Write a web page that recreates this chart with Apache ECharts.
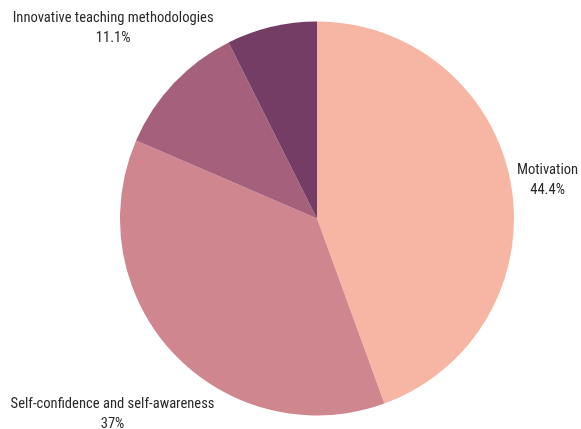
<!DOCTYPE html>
<html>
<head>
<meta charset="utf-8">
<script src="https://cdn.jsdelivr.net/npm/echarts@6/dist/echarts.min.js"></script>
<style>html,body{margin:0;padding:0;background:#fff;}#c{width:581px;height:429px;}</style>
</head>
<body>
<div id="c"></div>
<script>
const categories = ['Motivation', 'Self-confidence and self-awareness', 'Innovative teaching methodologies', 'Other'];
const values = [12, 10, 3, 2];
const showLabel = [true, true, true, false];
const colors = ['#f7b5a3', '#cf868e', '#a5617b', '#733d66'];

const chart = echarts.init(document.getElementById('c'), null, {renderer: 'canvas'});
const CENTER = [0.5456, 0.5093];
const RADIUS = 197;
const GAP = 4;
const TEXT_SHIFT = 2.5;
const total = values.reduce((a, b) => a + b, 0);
function midDir(i) {
  let before = 0;
  for (let k = 0; k < i; k++) before += values[k];
  const th = (90 - 360 * (before + values[i] / 2) / total) * Math.PI / 180;
  return [Math.cos(th), -Math.sin(th)];
}
function pct(v) {
  return +(v / total * 100).toFixed(1);
}
const option = {
  animation: false,
  series: [{
    type: 'pie',
    center: [(CENTER[0] * 100) + '%', (CENTER[1] * 100) + '%'],
    radius: RADIUS,
    startAngle: 90,
    clockwise: true,
    avoidLabelOverlap: false,
    itemStyle: {borderWidth: 0},
    labelLine: {show: false},
    label: {
      position: 'outside',
      fontFamily: "'Roboto Condensed', 'Liberation Sans Narrow', Roboto, sans-serif",
      fontSize: 14.6,
      lineHeight: 20,
      color: '#2a2a2a',
      formatter: p => p.name + '\n' + pct(p.value) + '%'
    },
    labelLayout: function (params) {
      const i = params.dataIndex;
      const d = midDir(i);
      const cx = chart.getWidth() * CENTER[0];
      const cy = chart.getHeight() * CENTER[1];
      const hw = params.labelRect.width / 2, hh = params.labelRect.height / 2;
      const target = RADIUS + GAP;
      let lo = 0, hi = 2000;
      for (let k = 0; k < 60; k++) {
        const t = (lo + hi) / 2;
        const ex = Math.max(0, Math.abs(t * d[0]) - hw);
        const ey = Math.max(0, Math.abs(t * d[1]) - hh);
        if (Math.sqrt(ex * ex + ey * ey) >= target) hi = t; else lo = t;
      }
      return {x: cx + hi * d[0], y: cy + hi * d[1] + TEXT_SHIFT, align: 'center', verticalAlign: 'middle'};
    },
    data: categories.map((n, i) => ({
      name: n,
      value: values[i],
      itemStyle: {color: colors[i]},
      label: {show: showLabel[i]}
    }))
  }]
};
chart.setOption(option);
</script>
</body>
</html>
